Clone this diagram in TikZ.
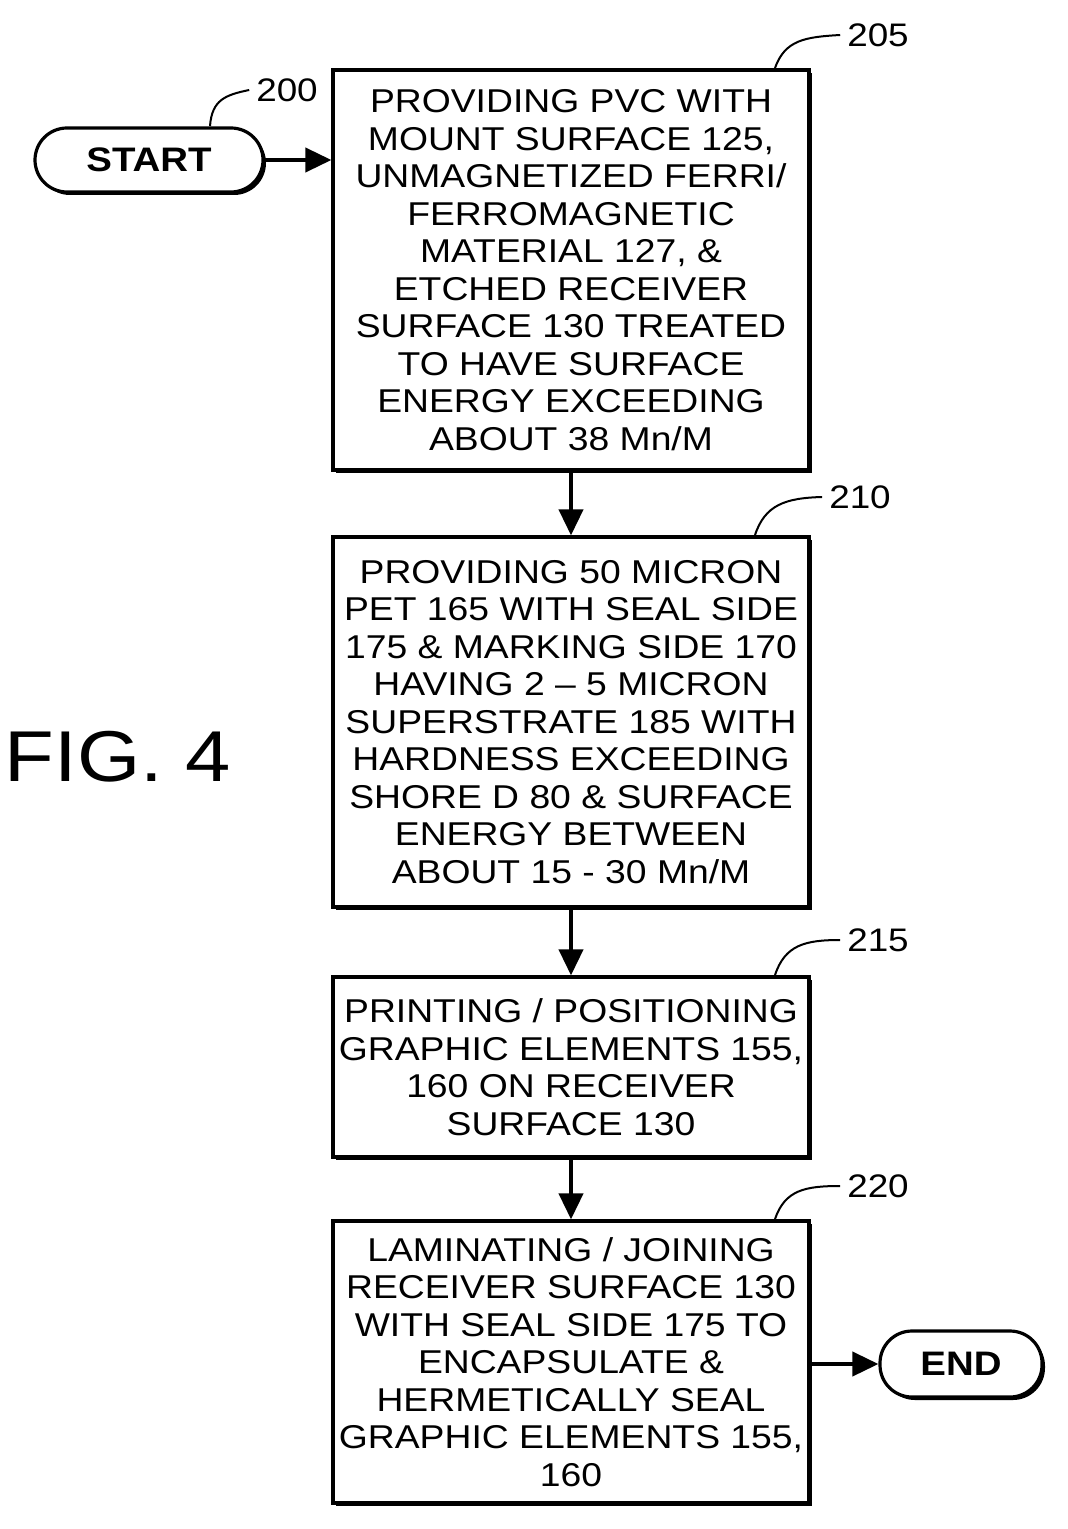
\documentclass[tikz,border=0pt]{standalone}
\usepackage{fontspec}
\setmainfont{Liberation Sans}[FakeStretch=1.13]
\usetikzlibrary{arrows.meta,shadows}
\begin{document}
\begin{tikzpicture}[x=0.5pt,y=-0.5pt,
 box/.style={draw,line width=1.6pt,fill=white,align=center,inner sep=0pt,
   font=\fontsize{16.5}{18.75}\selectfont,
   drop shadow={shadow xshift=1.5pt,shadow yshift=-1.5pt,fill=black,opacity=1}},
 term/.style={draw,line width=1.6pt,fill=white,rounded corners=16pt,
   font=\fontsize{17}{20}\selectfont\bfseries,inner sep=0pt,
   drop shadow={shadow xshift=1.5pt,shadow yshift=-1.5pt,fill=black,opacity=1}},
 arr/.style={line width=2pt,-{Triangle[length=13pt,width=12pt]}},
 lead/.style={line width=1pt},
 lab/.style={font=\fontsize{16.3}{18}\selectfont}]
\useasboundingbox (0,0) rectangle (1068,1529);
\node[box,minimum width=238pt,minimum height=200pt] (b1) at (571,270) {PROVIDING PVC WITH\\MOUNT SURFACE 125,\\UNMAGNETIZED FERRI/\\FERROMAGNETIC\\MATERIAL 127, \&\\ETCHED RECEIVER\\SURFACE 130 TREATED\\TO HAVE SURFACE\\ENERGY EXCEEDING\\ABOUT 38 Mn/M};
\node[box,minimum width=238pt,minimum height=185pt] (b2) at (571,722) {PROVIDING 50 MICRON\\PET 165 WITH SEAL SIDE\\175 \& MARKING SIDE 170\\HAVING 2 – 5 MICRON\\SUPERSTRATE 185 WITH\\HARDNESS EXCEEDING\\SHORE D 80 \& SURFACE\\ENERGY BETWEEN\\ABOUT 15 - 30 Mn/M};
\node[box,minimum width=238pt,minimum height=90pt] (b3) at (571,1067) {PRINTING / POSITIONING\\GRAPHIC ELEMENTS 155,\\160 ON RECEIVER\\SURFACE 130};
\node[box,minimum width=238pt,minimum height=141pt] (b4) at (571,1362) {LAMINATING / JOINING\\RECEIVER SURFACE 130\\WITH SEAL SIDE 175 TO\\ENCAPSULATE \&\\HERMETICALLY SEAL\\GRAPHIC ELEMENTS 155,\\160};
\node[term,minimum width=114pt,minimum height=32pt] (st) at (149,160) {START};
\node[term,minimum width=81pt,minimum height=33pt] (en) at (961,1364) {END};
\draw[arr] (st) -- (b1.west|-st);
\draw[arr] (b1) -- (b2);
\draw[arr] (b2) -- (b3);
\draw[arr] (b3) -- (b4);
\draw[arr] (b4.east|-en) -- (en);
\node[lab] (l200) at (287,90) {200};
\node[lab] (l205) at (878,35) {205};
\node[lab] (l210) at (860,497) {210};
\node[lab] (l215) at (878,940) {215};
\node[lab] (l220) at (878,1186) {220};
\coordinate (c200) at (210,126);
\coordinate (c205) at (775,68);
\coordinate (c210) at (755,535);
\coordinate (c215) at (775,975);
\coordinate (c220) at (775,1219);
\draw[lead] (c200) .. controls (212,100) and (225,95) .. (l200.west);
\draw[lead] (c205) .. controls (785,40) and (805,37) .. (l205.west);
\draw[lead] (c210) .. controls (765,505) and (785,498) .. (l210.west);
\draw[lead] (c215) .. controls (785,945) and (805,940) .. (l215.west);
\draw[lead] (c220) .. controls (785,1190) and (805,1186) .. (l220.west);
\node[font=\fontsize{36}{40}\selectfont] (fig) at (118,757) {FIG. 4};
\end{tikzpicture}
\end{document}
